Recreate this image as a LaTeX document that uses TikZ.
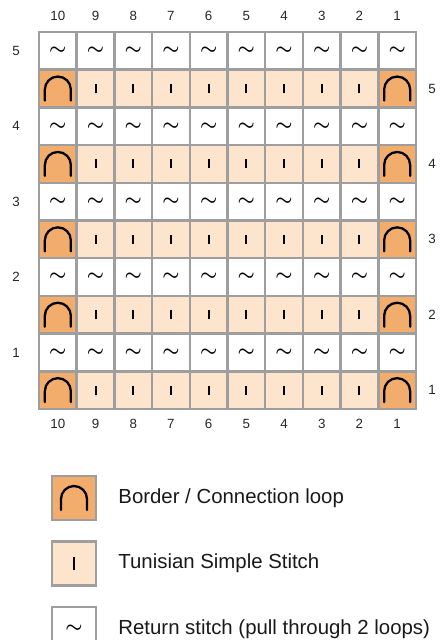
\documentclass[tikz,border=0pt]{standalone}
\usepackage{fontspec}
\setmainfont{Liberation Sans}
\usepackage{tikz}
\usetikzlibrary{positioning}
\definecolor{corLaranja}{RGB}{242, 173, 108}
\definecolor{corPessego}{RGB}{252, 229, 204}
\definecolor{corGrade}{RGB}{158, 158, 158}

\begin{document}
\begin{tikzpicture}[
    x=0.02cm, y=0.02cm,
    cell/.style={draw=corGrade, line width=1.4pt, minimum size=0.754cm, inner sep=0pt},
    legbox/.style={draw=corGrade, line width=1.4pt, minimum size=0.88cm, inner sep=0pt},
    num/.style={font=\fontsize{7.6}{9}\selectfont, text=black!85},
    legtxt/.style={font=\fontsize{11.6}{14}\selectfont, anchor=west, text=black!90},
    arco/.pic={\draw[line width=1.3pt, line cap=round] (-13,-12) -- (-13,-1)
                 arc[start angle=180, end angle=0, radius=13] -- (13,-12);},
    haste/.pic={\draw[line width=1.1pt] (0,-4.5) -- (0,4.5);},
    onda/.style={font=\boldmath\fontsize{10.5}{12}\selectfont}
]
\useasboundingbox (0,0) rectangle (441,-640);

% grid of stitches
\foreach \r in {1,...,10}{
  \foreach \c in {1,...,10}{
    \pgfmathsetmacro{\px}{39+37.7*(\c-0.5)}
    \pgfmathsetmacro{\py}{-32-37.7*(\r-0.5)}
    \pgfmathtruncatemacro{\borda}{(\c==1)||(\c==10)}
    \ifodd\r
      \node[cell, fill=white, onda] (c\r-\c) at (\px,\py) {$\sim$};
    \else
      \ifnum\borda=1
        \node[cell, fill=corLaranja] (c\r-\c) at (\px,\py) {};
        \pic at (c\r-\c.center) {arco};
      \else
        \node[cell, fill=corPessego] (c\r-\c) at (\px,\py) {};
        \pic at (c\r-\c.center) {haste};
      \fi
    \fi
  }
}

% column numbers
\foreach \c in {1,...,10}{
  \pgfmathtruncatemacro{\n}{11-\c}
  \pgfmathsetmacro{\px}{39+37.7*(\c-0.5)}
  \node[num] (topo\c) at (\px,-16) {\n};
  \node[num] (base\c) at (\px,-424) {\n};
}

% row numbers
\foreach \r in {1,3,5,7,9}{
  \pgfmathtruncatemacro{\n}{6-(\r+1)/2}
  \pgfmathsetmacro{\py}{-32-37.7*(\r-0.5)}
  \node[num] (esq\r) at (16,\py) {\n};
}
\foreach \r in {2,4,6,8,10}{
  \pgfmathtruncatemacro{\n}{6-\r/2}
  \pgfmathsetmacro{\py}{-32-37.7*(\r-0.5)}
  \node[num] (dir\r) at (432,\py) {\n};
}

% legend
\node[legbox, fill=corLaranja] (legBorda) at (74,-498) {};
\pic at (legBorda.center) {arco};
\node[legbox, fill=corPessego, below=0.38cm of legBorda] (legSimples) {};
\pic[scale=1.35] at (legSimples.center) {haste};
\node[legbox, fill=white, below=0.38cm of legSimples, onda] (legRetorno) {$\sim$};

\node[legtxt, right=0.3cm of legBorda] {Border / Connection loop};
\node[legtxt, right=0.3cm of legSimples] {Tunisian Simple Stitch};
\node[legtxt, right=0.3cm of legRetorno] {Return stitch (pull through 2 loops)};
\end{tikzpicture}
\end{document}
